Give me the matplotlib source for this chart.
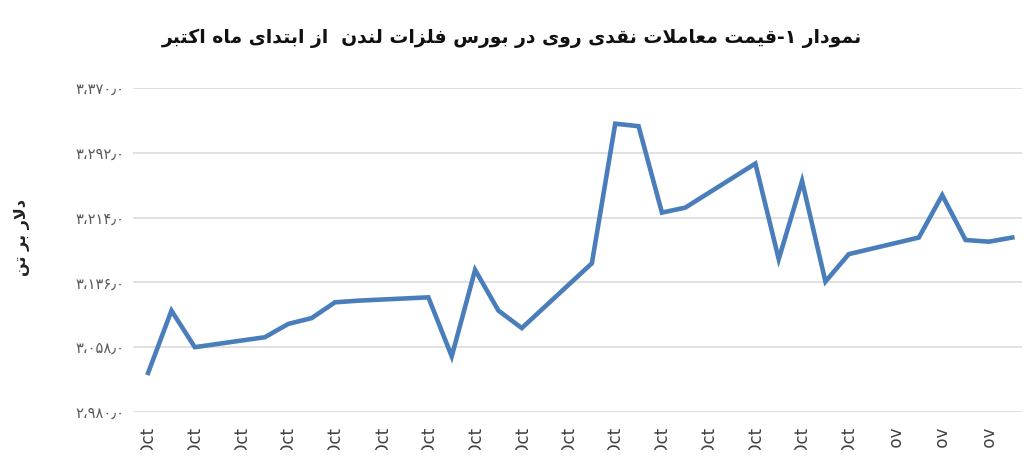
import datetime as dt

import matplotlib
matplotlib.use("Agg")
import matplotlib.dates as mdates
import matplotlib.pyplot as plt
from matplotlib.patches import Rectangle

# LME zinc cash price, USD per tonne
dates = [
    "2025-10-01", "2025-10-02", "2025-10-03", "2025-10-06", "2025-10-07",
    "2025-10-08", "2025-10-09", "2025-10-10", "2025-10-13", "2025-10-14",
    "2025-10-15", "2025-10-16", "2025-10-17", "2025-10-20", "2025-10-21",
    "2025-10-22", "2025-10-23", "2025-10-24", "2025-10-27", "2025-10-28",
    "2025-10-29", "2025-10-30", "2025-10-31", "2025-11-03", "2025-11-04",
    "2025-11-05", "2025-11-06", "2025-11-07",
]
prices = [
    3027, 3102, 3058, 3070, 3086,
    3093, 3112, 3114, 3118, 3047,
    3151, 3102, 3081, 3159, 3327,
    3324, 3220, 3226, 3279, 3164,
    3258, 3137, 3170, 3190, 3241,
    3187, 3185, 3190,
]
y_ticks = [2980, 3058, 3136, 3214, 3292, 3370]

title_text = "نمودار ۱-قیمت معاملات نقدی روی در بورس فلزات لندن  از ابتدای ماه اکتبر"
ylabel_text = "دلار بر تن"

# presentation forms: isolated, final, initial, medial (None = does not join forward)
FORMS = {
    "ا": ("\uFE8D", "\uFE8E", None, None),
    "ب": ("\uFE8F", "\uFE90", "\uFE91", "\uFE92"),
    "ت": ("\uFE95", "\uFE96", "\uFE97", "\uFE98"),
    "د": ("\uFEA9", "\uFEAA", None, None),
    "ر": ("\uFEAD", "\uFEAE", None, None),
    "ز": ("\uFEAF", "\uFEB0", None, None),
    "س": ("\uFEB1", "\uFEB2", "\uFEB3", "\uFEB4"),
    "ع": ("\uFEC9", "\uFECA", "\uFECB", "\uFECC"),
    "ف": ("\uFED1", "\uFED2", "\uFED3", "\uFED4"),
    "ق": ("\uFED5", "\uFED6", "\uFED7", "\uFED8"),
    "ل": ("\uFEDD", "\uFEDE", "\uFEDF", "\uFEE0"),
    "م": ("\uFEE1", "\uFEE2", "\uFEE3", "\uFEE4"),
    "ن": ("\uFEE5", "\uFEE6", "\uFEE7", "\uFEE8"),
    "ه": ("\uFEE9", "\uFEEA", "\uFEEB", "\uFEEC"),
    "و": ("\uFEED", "\uFEEE", None, None),
    "ی": ("\uFBFC", "\uFBFD", "\uFBFE", "\uFBFF"),
    "ک": ("\uFB8E", "\uFB8F", "\uFB90", "\uFB91"),
    "LA": ("\uFEFB", "\uFEFC", None, None),
}


def shape_rtl(text):
    # join Persian letters and flip to visual order (matplotlib has no shaping)
    chars = []
    i = 0
    while i < len(text):
        if text[i] == "ل" and i + 1 < len(text) and text[i + 1] == "ا":
            chars.append("LA")
            i += 2
        else:
            chars.append(text[i])
            i += 1
    out = []
    for k, c in enumerate(chars):
        if c not in FORMS:
            out.append(c)
            continue
        prev = chars[k - 1] if k > 0 else None
        nxt = chars[k + 1] if k + 1 < len(chars) else None
        joins_prev = prev in FORMS and FORMS[prev][2] is not None
        joins_next = FORMS[c][2] is not None and nxt in FORMS
        iso, fin, ini, med = FORMS[c]
        if joins_prev and joins_next:
            out.append(med)
        elif joins_prev:
            out.append(fin)
        elif joins_next:
            out.append(ini)
        else:
            out.append(iso)
    return "".join(reversed(out))


def fa_number(v):
    digits = "۰۱۲۳۴۵۶۷۸۹"
    s = f"{v:,.1f}".replace(",", "،").replace(".", "٫")
    return "".join(digits[int(ch)] if ch.isdigit() else ch for ch in s)


plt.rcParams["font.family"] = ["DejaVu Sans"]

x = [dt.datetime.strptime(d, "%Y-%m-%d") for d in dates]

fig = plt.figure(figsize=(10.36, 4.66), dpi=100)
ax = fig.add_axes([0.1284, 0.1159, 0.8581, 0.6953])

ax.plot(x, prices, color="#4a7ebb", linewidth=3.3, solid_joinstyle="miter", zorder=3)

ax.set_ylim(2980, 3370)
ax.set_yticks(y_ticks)
ax.set_yticklabels([fa_number(v) for v in y_ticks])
ax.set_xlim(dt.datetime(2025, 10, 1) - dt.timedelta(hours=15.5),
            dt.datetime(2025, 11, 7) + dt.timedelta(hours=10))
ax.set_xticks([dt.datetime(2025, 10, 1) + dt.timedelta(days=2 * k) for k in range(19)])
ax.xaxis.set_major_formatter(mdates.DateFormatter("%d-%b"))

ax.grid(axis="y", color="#d9d9d9", linewidth=1.1)
for s in ax.spines.values():
    s.set_visible(False)
ax.tick_params(axis="y", length=0, pad=6, labelsize=10.5, labelcolor="#595959")
ax.tick_params(axis="x", length=0, pad=10, labelsize=12, labelcolor="#404040", rotation=90)
for lab in ax.get_xticklabels():
    lab.set_verticalalignment("top")

fig.text(0.4937, 0.918, shape_rtl(title_text), ha="center", va="center",
         fontsize=13.5, fontweight="bold", color="#111111")
fig.text(0.021, 0.491, shape_rtl(ylabel_text), ha="center", va="center",
         rotation=90, fontsize=11.5, fontweight="bold", color="#222222")

# the source image is cut off just below the tick labels
fig.patches.append(Rectangle((0, 0), 1, 16 / 466, transform=fig.transFigure,
                             facecolor="white", edgecolor="none", zorder=10))

fig.savefig("out.png", dpi=100)
